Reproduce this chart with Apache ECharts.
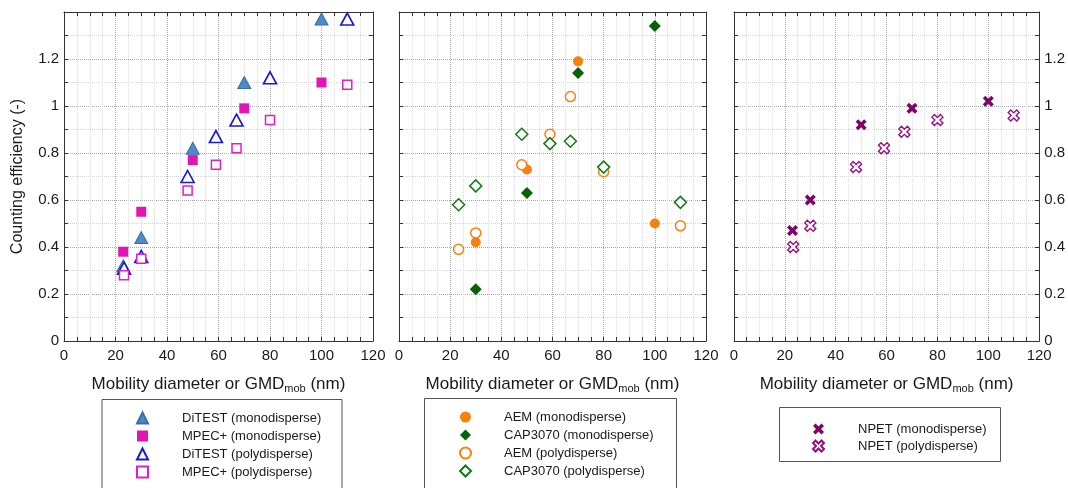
<!DOCTYPE html>
<html>
<head>
<meta charset="utf-8">
<script src="https://cdn.jsdelivr.net/npm/echarts@6/dist/echarts.min.js"></script>
<style>
html,body{margin:0;padding:0;background:#fff;}
#chart{width:1068px;height:488px;}
</style>
</head>
<body>
<div id="chart"></div>
<script>
// ---------- data (x = mobility diameter / GMD in nm, y = counting efficiency) ----------
const ditestMono = [[23,0.32],[30,0.44],[50,0.82],[70,1.10],[100,1.37]];
const mpecMono   = [[23,0.38],[30,0.55],[50,0.77],[70,0.99],[100,1.10]];
const ditestPoly = [[23.3,0.31],[30,0.36],[48,0.70],[59,0.87],[67,0.94],[80,1.12],[110,1.37]];
const mpecPoly   = [[23.3,0.28],[30,0.35],[48,0.64],[59,0.75],[67,0.82],[80,0.94],[110,1.09]];

const aemMono    = [[30,0.42],[50,0.73],[70,1.19],[100,0.50]];
const capMono    = [[30,0.22],[50,0.63],[70,1.14],[100,1.34]];
const aemPoly    = [[23.3,0.39],[30,0.46],[48,0.75],[59,0.88],[67,1.04],[80,0.72],[110,0.49]];
const capPoly    = [[23.3,0.58],[30,0.66],[48,0.88],[59,0.84],[67,0.85],[80,0.74],[110,0.59]];

const npetMono   = [[23,0.47],[30,0.60],[50,0.92],[70,0.99],[100,1.02]];
const npetPoly   = [[23.3,0.40],[30,0.49],[48,0.74],[59,0.82],[67,0.89],[80,0.94],[110,0.96]];

const xRange = [0, 120];
const yRange = [0, 1.4];
const xTitle = '{a|Mobility diameter or GMD}{b|mob}{a| (nm)}';
const yTitle = 'Counting efficiency (-)';
const legendNames = [
  ['DiTEST (monodisperse)','MPEC+ (monodisperse)','DiTEST (polydisperse)','MPEC+ (polydisperse)'],
  ['AEM (monodisperse)','CAP3070 (monodisperse)','AEM (polydisperse)','CAP3070 (polydisperse)'],
  ['NPET (monodisperse)','NPET (polydisperse)']
];
// ---------------------------------------------------------------------------

const FONT = 'Liberation Sans, Arial, sans-serif';
const AX = '#333';
const xShape = 'path://M2.3,0 L5,2.7 L7.7,0 L10,2.3 L7.3,5 L10,7.7 L7.7,10 L5,7.3 L2.3,10 L0,7.7 L2.7,5 L0,2.3 Z';

const grids = [
  {left:64, top:12, width:309, height:329},
  {left:399, top:12, width:307, height:329},
  {left:734, top:12, width:308, height:329}
];

const xAxis = [], yAxis = [];
grids.forEach((g, i) => {
  const common = {
    type:'value', gridIndex:i, min:xRange[0], max:xRange[1], interval:20,
    axisLine:{show:true, onZero:false, lineStyle:{color:AX, width:1}},
    axisTick:{show:true, inside:true, length:4, lineStyle:{color:AX}},
    minorTick:{show:true, splitNumber:4, length:4, lineStyle:{color:AX}}
  };
  xAxis.push(Object.assign({}, common, {
    position:'bottom',
    axisLabel:{fontSize:15, color:'#1a1a1a', margin:7, fontFamily:FONT},
    splitLine:{show:true, lineStyle:{color:'#a8a8a8', type:'dotted', width:1}},
    minorSplitLine:{show:true, lineStyle:{color:'#dcdcdc', type:'dotted', width:1}},
    name:xTitle, nameLocation:'middle', nameGap:33,
    nameTextStyle:{rich:{
      a:{fontSize:17, color:'#1a1a1a', fontFamily:FONT, lineHeight:20},
      b:{fontSize:11, color:'#1a1a1a', fontFamily:FONT, lineHeight:20, verticalAlign:'bottom', padding:[9,0,0,0]}
    }}
  }));
  xAxis.push(Object.assign({}, common, {
    position:'top', axisLabel:{show:false}, splitLine:{show:false}
  }));
  const ycommon = {
    type:'value', gridIndex:i, min:yRange[0], max:yRange[1], interval:0.2,
    axisLine:{show:true, onZero:false, lineStyle:{color:AX, width:1}},
    axisTick:{show:true, inside:true, length:4, lineStyle:{color:AX}},
    minorTick:{show:true, splitNumber:2, length:4, lineStyle:{color:AX}}
  };
  const yfmt = v => (v > 1.3 ? '' : String(Math.round(v * 10) / 10));
  yAxis.push(Object.assign({}, ycommon, {
    position:'left',
    axisLabel:{show:i===0, fontSize:15, color:'#1a1a1a', margin:5, fontFamily:FONT, formatter:yfmt},
    splitLine:{show:true, lineStyle:{color:'#a8a8a8', type:'dotted', width:1}},
    minorSplitLine:{show:true, lineStyle:{color:'#d4d4d4', type:'dotted', width:1}},
    name: i===0 ? yTitle : '', nameLocation:'middle', nameGap:38,
    nameTextStyle:{fontSize:16, color:'#1a1a1a', fontFamily:FONT}
  }));
  yAxis.push(Object.assign({}, ycommon, {
    position:'right',
    axisLabel:{show:i===2, fontSize:15, color:'#1a1a1a', margin:5, fontFamily:FONT, formatter:yfmt},
    splitLine:{show:false}
  }));
});

function sc(name, data, gi, symbol, size, style){
  return {
    type:'scatter', name:name, data:data,
    xAxisIndex:gi*2, yAxisIndex:gi*2,
    symbol:symbol, symbolSize:size, itemStyle:Object.assign({opacity:1}, style),
    emphasis:{disabled:true}, z:3
  };
}

const series = [
  sc(legendNames[0][0], ditestMono, 0, 'triangle', [13,12], {color:'#4f89c6', borderColor:'#3a6ea8', borderWidth:1}),
  sc(legendNames[0][1], mpecMono, 0, 'rect', 10, {color:'#e214b4', borderWidth:0}),
  sc(legendNames[0][2], ditestPoly, 0, 'triangle', [13,12], {color:'#fff', borderColor:'#1818d8', borderWidth:1.6}),
  sc(legendNames[0][3], mpecPoly, 0, 'rect', 9, {color:'#fff', borderColor:'#e61ec0', borderWidth:1.5}),

  sc(legendNames[1][0], aemMono, 1, 'circle', 10, {color:'#f7800f', borderWidth:0}),
  sc(legendNames[1][1], capMono, 1, 'diamond', 12, {color:'#056205', borderWidth:0}),
  sc(legendNames[1][2], aemPoly, 1, 'circle', 10, {color:'#fff', borderColor:'#f7800f', borderWidth:1.5}),
  sc(legendNames[1][3], capPoly, 1, 'diamond', 12, {color:'#fff', borderColor:'#137a13', borderWidth:1.5}),

  sc(legendNames[2][0], npetMono, 2, xShape, 11, {color:'#7e0466', borderWidth:0}),
  sc(legendNames[2][1], npetPoly, 2, xShape, 11, {color:'#fff', borderColor:'#96137f', borderWidth:1.4})
];

function lg(names, left, top, gap, pad){
  return {
    data:names, orient:'vertical', left:left, top:top, padding:0,
    itemWidth:11, itemHeight:11, itemGap:gap, selectedMode:false,
    textStyle:{fontSize:13, color:'#1a1a1a', fontFamily:FONT, lineHeight:16, padding:[0,0,0,pad]}
  };
}

const option = {
  animation:false,
  backgroundColor:'#fff',
  grid:grids,
  xAxis:xAxis,
  yAxis:yAxis,
  series:series,
  legend:[
    lg(legendNames[0], 136, 410, 2, 29),
    lg(legendNames[1], 459, 409, 2, 28),
    lg(legendNames[2], 812, 421, 1, 29)
  ],
  graphic:[
    {type:'rect', shape:{x:102, y:399.5, width:240, height:100}, style:{fill:'none', stroke:'#555', lineWidth:1}, silent:true},
    {type:'rect', shape:{x:424.5, y:398.5, width:252, height:100}, style:{fill:'none', stroke:'#555', lineWidth:1}, silent:true},
    {type:'rect', shape:{x:779.5, y:407.5, width:221, height:54}, style:{fill:'none', stroke:'#555', lineWidth:1}, silent:true}
  ]
};

const chart = echarts.init(document.getElementById('chart'), null, {renderer:'canvas'});
chart.setOption(option);
</script>
</body>
</html>
